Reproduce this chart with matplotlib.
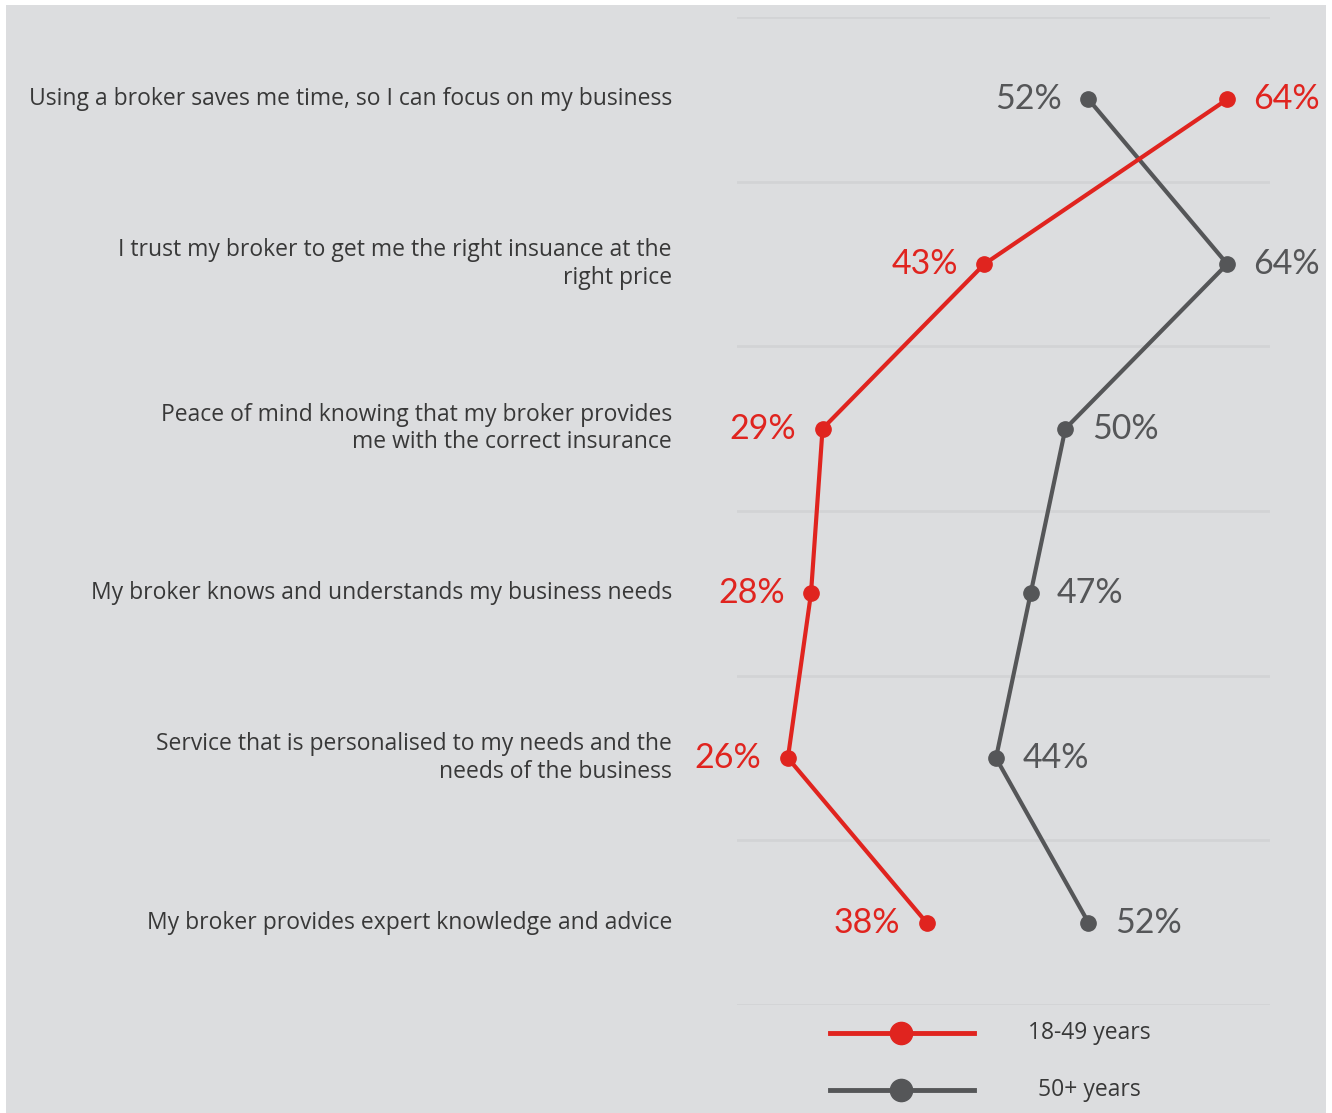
import matplotlib.pyplot as plt
from matplotlib.lines import Line2D
from matplotlib.patches import Rectangle

categories = [
    "Using a broker saves me time, so I can focus on my business",
    "I trust my broker to get me the right insuance at the\nright price",
    "Peace of mind knowing that my broker provides\nme with the correct insurance",
    "My broker knows and understands my business needs",
    "Service that is personalised to my needs and the\nneeds of the business",
    "My broker provides expert knowledge and advice",
]
young = [64, 43, 29, 28, 26, 38]
older = [52, 64, 50, 47, 44, 52]
series_names = ["18-49 years", "50+ years"]

RED = "#e0241f"
GREY = "#555658"
BG = "#dcdddf"
TXT = "#383838"
plt.rcParams['font.family'] = ['Open Sans', 'DejaVu Sans']

fig = plt.figure(figsize=(13.32, 11.13), dpi=100, facecolor="white")
fig.add_artist(Rectangle((6 / 1332, 0), 1320 / 1332, 1 - 5 / 1113,
                         transform=fig.transFigure, facecolor=BG,
                         edgecolor="none", zorder=0))

ax = fig.add_axes([737 / 1332, 1 - 1005 / 1113, 533 / 1332, 988 / 1113])
ax.set_facecolor("none")
ax.set_xlim(21.6, 67.7)
ax.set_ylim(len(categories) - 0.5, -0.5)
for s in ax.spines.values():
    s.set_visible(False)
ax.set_xticks([])
ax.set_yticks([])

for k in range(len(categories) + 1):
    ax.axhline(k - 0.5, color="#d2d3d5", lw=2, zorder=1)

ys = list(range(len(categories)))
ax.plot(older, ys, color=GREY, lw=3, marker="o", ms=11, zorder=3)
ax.plot(young, ys, color=RED, lw=3, marker="o", ms=11, zorder=4)

for i in ys:
    for v, other, c in [(young[i], older[i], RED), (older[i], young[i], GREY)]:
        right = v > other
        ax.annotate(f"{v}%", (v, i), xytext=(19 if right else -19, 0),
                    textcoords="offset points", ha="left" if right else "right",
                    va="center", fontsize=24.5, color=c, family=['Lato', 'DejaVu Sans'])

for i, lab in enumerate(categories):
    ax.annotate(lab, (0, i), xycoords=("figure pixels", "data"),
                xytext=(672, 0), textcoords=("figure pixels", "offset points"),
                ha="right", va="center", fontsize=16.5, color=TXT,
                linespacing=1.2, annotation_clip=False)

# legend
for (ly, c, name) in [(1033, RED, series_names[0]), (1090, GREY, series_names[1])]:
    yf = 1 - ly / 1113
    fig.add_artist(Line2D([830 / 1332, 974 / 1332], [yf, yf], color=c, lw=3.5,
                          transform=fig.transFigure))
    fig.add_artist(Line2D([901 / 1332], [yf], color=c, marker="o", ms=16,
                          transform=fig.transFigure))
    fig.text(1089 / 1332, yf, name, ha="center", va="center", fontsize=16.5,
             color=TXT)

fig.savefig("out.png", dpi=100, facecolor="white")
